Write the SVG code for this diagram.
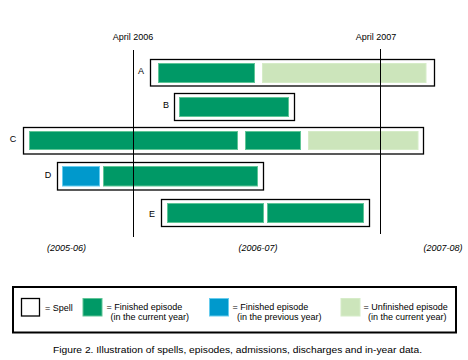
<svg xmlns="http://www.w3.org/2000/svg" width="468" height="360" viewBox="0 0 468 360">
<style>
text{font-family:"Liberation Sans",Arial,sans-serif;font-size:9px;fill:#000}
.spell{fill:#fff;stroke:#000;stroke-width:1.3}
.fin{fill:#009966;stroke:#5fc596;stroke-width:1}
.prev{fill:#0099cc;stroke:#66ccee;stroke-width:1}
.unf{fill:#cce5bb;stroke:#d6ecc8;stroke-width:1}
.yr{font-style:italic}
.lbl{text-anchor:middle}
</style>
<rect width="468" height="360" fill="#fff"/>
<g id="spell-A">
<rect class="spell" x="150.5" y="59.5" width="284" height="26.5"/>
<rect class="fin" x="158.5" y="63.5" width="96" height="19"/>
<rect class="unf" x="262.5" y="63.5" width="163.5" height="19"/>
<text x="141" y="74" class="lbl">A</text>
</g>
<g id="spell-B">
<rect class="spell" x="174.5" y="93.5" width="120" height="27"/>
<rect class="fin" x="179.5" y="97.5" width="109" height="19"/>
<text x="166" y="108" class="lbl">B</text>
</g>
<g id="spell-C">
<rect class="spell" x="23.5" y="127.5" width="400" height="26.5"/>
<rect class="fin" x="29.5" y="131.5" width="208" height="18"/>
<rect class="fin" x="245.5" y="131.5" width="55" height="18"/>
<rect class="unf" x="308.5" y="131.5" width="109.5" height="18"/>
<text x="13" y="142" class="lbl">C</text>
</g>
<g id="spell-D">
<rect class="spell" x="57.5" y="162.5" width="206" height="27.5"/>
<rect class="prev" x="62.5" y="166.5" width="37" height="19.5"/>
<rect class="fin" x="103.5" y="166.5" width="154" height="19.5"/>
<text x="48" y="177.5" class="lbl">D</text>
</g>
<g id="spell-E">
<rect class="spell" x="161.5" y="199.5" width="208" height="27"/>
<rect class="fin" x="167.5" y="203.5" width="96" height="19"/>
<rect class="fin" x="267.5" y="203.5" width="96" height="19"/>
<text x="152" y="217" class="lbl">E</text>
</g>
<g id="connectors">
<line x1="133.5" y1="50" x2="133.5" y2="237" stroke="#000" stroke-width="1"/>
<line x1="380.5" y1="49" x2="380.5" y2="234" stroke="#000" stroke-width="1"/>
</g>
<g id="axis-labels">
<text x="133" y="40" class="lbl">April 2006</text>
<text x="376" y="40" class="lbl">April 2007</text>
<text x="47" y="251" class="yr">(2005-06)</text>
<text x="238.5" y="251" class="yr">(2006-07)</text>
<text x="423.5" y="251" class="yr">(2007-08)</text>
</g>
<g id="legend">
<rect x="13" y="287" width="443" height="45.5" fill="#fff" stroke="#000" stroke-width="2"/>
<rect class="spell" x="21.5" y="298.5" width="18" height="17.5"/>
<text x="45" y="311">= Spell</text>
<rect class="fin" x="83" y="298.5" width="19" height="17.5"/>
<text x="106.5" y="309.5">= Finished episode</text>
<text x="110.5" y="320">(in the current year)</text>
<rect class="prev" x="209.5" y="298.5" width="19" height="17.5"/>
<text x="232.5" y="309.5">= Finished episode</text>
<text x="237" y="320">(in the previous year)</text>
<rect class="unf" x="341" y="298.5" width="19" height="17.5"/>
<text x="363.5" y="309.5">= Unfinished episode</text>
<text x="368" y="320">(in the current year)</text>
</g>
<text id="caption" x="53" y="353" textLength="369" lengthAdjust="spacingAndGlyphs">Figure 2. Illustration of spells, episodes, admissions, discharges and in-year data.</text>
</svg>
